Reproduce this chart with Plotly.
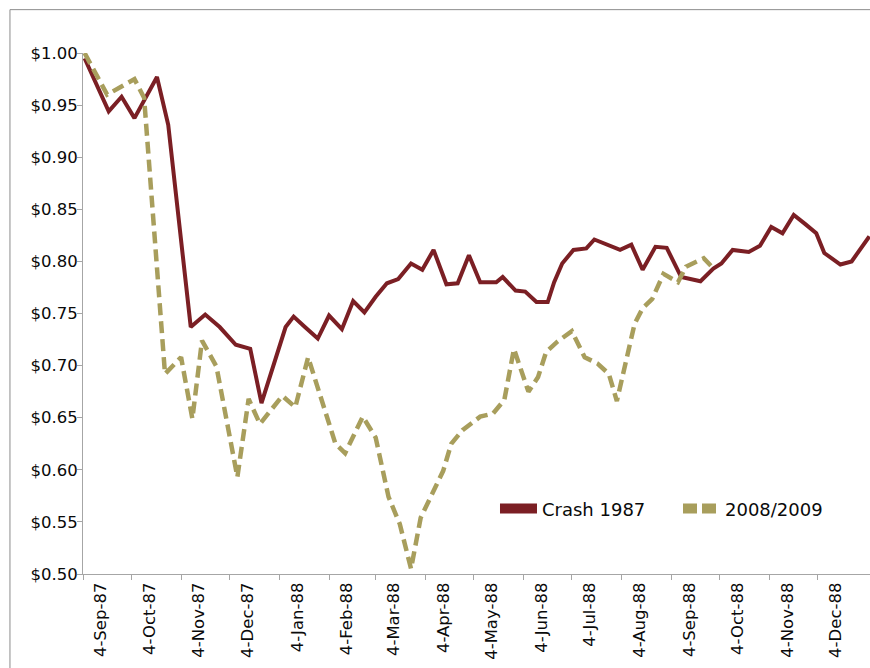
import plotly.graph_objects as go

# ---- data ----
crash_dates = [
    "1987-09-05", "1987-09-20", "1987-09-28", "1987-10-06", "1987-10-20", "1987-10-27",
    "1987-11-10", "1987-11-19", "1987-11-28", "1987-12-08", "1987-12-17", "1987-12-24",
    "1988-01-08", "1988-01-13", "1988-01-20", "1988-01-28", "1988-02-04", "1988-02-12",
    "1988-02-19", "1988-02-26", "1988-03-04", "1988-03-11", "1988-03-18", "1988-03-26",
    "1988-04-02", "1988-04-09", "1988-04-17", "1988-04-24", "1988-05-01", "1988-05-08",
    "1988-05-18", "1988-05-22", "1988-05-30", "1988-06-05", "1988-06-12", "1988-06-19",
    "1988-06-23", "1988-06-28", "1988-07-05", "1988-07-13", "1988-07-18", "1988-07-26",
    "1988-08-03", "1988-08-10", "1988-08-17", "1988-08-25", "1988-09-01", "1988-09-10",
    "1988-09-22", "1988-09-30", "1988-10-05", "1988-10-12", "1988-10-22", "1988-10-29",
    "1988-11-05", "1988-11-12", "1988-11-19", "1988-11-26", "1988-12-03", "1988-12-08",
    "1988-12-18", "1988-12-25", "1989-01-05",
]
crash_values = [
    0.995, 0.944, 0.958, 0.9375, 0.977, 0.931,
    0.737, 0.749, 0.737, 0.720, 0.716, 0.664,
    0.737, 0.747, 0.737, 0.726, 0.748, 0.735,
    0.762, 0.751, 0.766, 0.779, 0.783, 0.798,
    0.792, 0.811, 0.778, 0.779, 0.806, 0.780,
    0.780, 0.785, 0.772, 0.771, 0.761, 0.761,
    0.780, 0.798, 0.811, 0.8125, 0.821, 0.816,
    0.811, 0.816, 0.792, 0.814, 0.813, 0.785,
    0.781, 0.793, 0.798, 0.811, 0.809, 0.815,
    0.833, 0.827, 0.8445, 0.836, 0.827, 0.808,
    0.797, 0.800, 0.824,
]

recent_dates = [
    "1987-09-05", "1987-09-19", "1987-10-06", "1987-10-12", "1987-10-25", "1987-11-04",
    "1987-11-11", "1987-11-17", "1987-11-26", "1987-12-09", "1987-12-16", "1987-12-23",
    "1988-01-06", "1988-01-14", "1988-01-22", "1988-02-08", "1988-02-14", "1988-02-25",
    "1988-03-04", "1988-03-12", "1988-03-19", "1988-03-26", "1988-04-01", "1988-04-07",
    "1988-04-15", "1988-04-20", "1988-04-27", "1988-05-08", "1988-05-16", "1988-05-23",
    "1988-05-29", "1988-06-07", "1988-06-13", "1988-06-18", "1988-06-25", "1988-07-04",
    "1988-07-12", "1988-07-20", "1988-07-27", "1988-08-01", "1988-08-12", "1988-08-17",
    "1988-08-23", "1988-08-30", "1988-09-08", "1988-09-13", "1988-09-24", "1988-09-29",
]
recent_values = [
    1.000, 0.960, 0.975, 0.957, 0.692, 0.708,
    0.649, 0.724, 0.699, 0.593, 0.668, 0.644,
    0.671, 0.660, 0.708, 0.625, 0.616, 0.651,
    0.631, 0.574, 0.548, 0.505, 0.554, 0.574,
    0.599, 0.625, 0.638, 0.651, 0.654, 0.667,
    0.716, 0.675, 0.689, 0.713, 0.723, 0.733,
    0.708, 0.702, 0.692, 0.666, 0.740, 0.755,
    0.764, 0.788, 0.780, 0.795, 0.803, 0.795,
]

x_tick_dates = [
    "1987-09-04", "1987-10-04", "1987-11-04", "1987-12-04", "1988-01-04", "1988-02-04",
    "1988-03-04", "1988-04-04", "1988-05-04", "1988-06-04", "1988-07-04", "1988-08-04",
    "1988-09-04", "1988-10-04", "1988-11-04", "1988-12-04",
]
x_tick_labels = [
    "4-Sep-87", "4-Oct-87", "4-Nov-87", "4-Dec-87", "4-Jan-88", "4-Feb-88",
    "4-Mar-88", "4-Apr-88", "4-May-88", "4-Jun-88", "4-Jul-88", "4-Aug-88",
    "4-Sep-88", "4-Oct-88", "4-Nov-88", "4-Dec-88",
]
y_tick_values = [0.50, 0.55, 0.60, 0.65, 0.70, 0.75, 0.80, 0.85, 0.90, 0.95, 1.00]
y_tick_labels = ["$0.50", "$0.55", "$0.60", "$0.65", "$0.70", "$0.75",
                 "$0.80", "$0.85", "$0.90", "$0.95", "$1.00"]

series_names = ["Crash 1987", "2008/2009"]

# ---- styles ----
CRASH_COLOR = "#7B1F24"
RECENT_COLOR = "#A89E5C"
FONT = "DejaVu Sans"
AXIS_GRAY = "#a6a6a6"
TEXT = "#0a0a0a"

fig = go.Figure()

fig.add_trace(go.Scatter(
    x=crash_dates, y=crash_values, mode="lines", name=series_names[0],
    line=dict(color=CRASH_COLOR, width=4), showlegend=False,
))
fig.add_trace(go.Scatter(
    x=recent_dates, y=recent_values, mode="lines", name=series_names[1],
    line=dict(color=RECENT_COLOR, width=4.5, dash="12px,6px"), showlegend=False,
))
# legend entries (thick swatches as in the original)
fig.add_trace(go.Scatter(
    x=[None], y=[None], mode="lines", name=series_names[0],
    line=dict(color=CRASH_COLOR, width=10),
))
fig.add_trace(go.Scatter(
    x=[None], y=[None], mode="lines", name=series_names[1],
    line=dict(color=RECENT_COLOR, width=10, dash="14px,5px"),
))

fig.update_layout(
    width=870, height=668,
    margin=dict(l=83, r=0, t=53, b=94, autoexpand=False),
    paper_bgcolor="white", plot_bgcolor="white",
    font=dict(family=FONT, size=17, color=TEXT),
    legend=dict(
        orientation="h", x=0.5235, y=0.125, xanchor="left", yanchor="middle",
        font=dict(family=FONT, size=18, color=TEXT),
        itemwidth=37, entrywidth=131, entrywidthmode="pixels",
        bgcolor="rgba(0,0,0,0)",
    ),
    shapes=[
        dict(type="line", xref="paper", yref="paper",
             x0=-0.0928, x1=-0.0928, y0=1.0832, y1=-0.2,
             line=dict(color="#8c8c8c", width=1)),
        dict(type="line", xref="paper", yref="paper",
             x0=-0.0928, x1=1.05, y0=1.0832, y1=1.0832,
             line=dict(color="#8c8c8c", width=1)),
    ],
)

fig.update_xaxes(
    type="date",
    range=["1987-09-04", "1989-01-05 10:00"],
    tickmode="array", tickvals=x_tick_dates, ticktext=x_tick_labels,
    tickangle=-90, ticks="outside", ticklen=5, tickcolor=AXIS_GRAY,
    ticklabelshift=18, ticklabelstandoff=-4,
    showline=True, linecolor=AXIS_GRAY, linewidth=1,
    showgrid=False, zeroline=False,
    tickfont=dict(family=FONT, size=16.5, color=TEXT),
)
fig.update_yaxes(
    range=[0.5, 1.0],
    tickmode="array", tickvals=y_tick_values, ticktext=y_tick_labels,
    ticks="outside", ticklen=5, tickcolor=AXIS_GRAY,
    ticklabelstandoff=-4,
    showline=True, linecolor=AXIS_GRAY, linewidth=1,
    showgrid=False, zeroline=False,
    tickfont=dict(family=FONT, size=16.5, color=TEXT),
)

fig.write_html(
    "out.html",
    config={"displayModeBar": False},
    post_script="document.body.style.margin='0';document.body.style.overflow='hidden';",
)
